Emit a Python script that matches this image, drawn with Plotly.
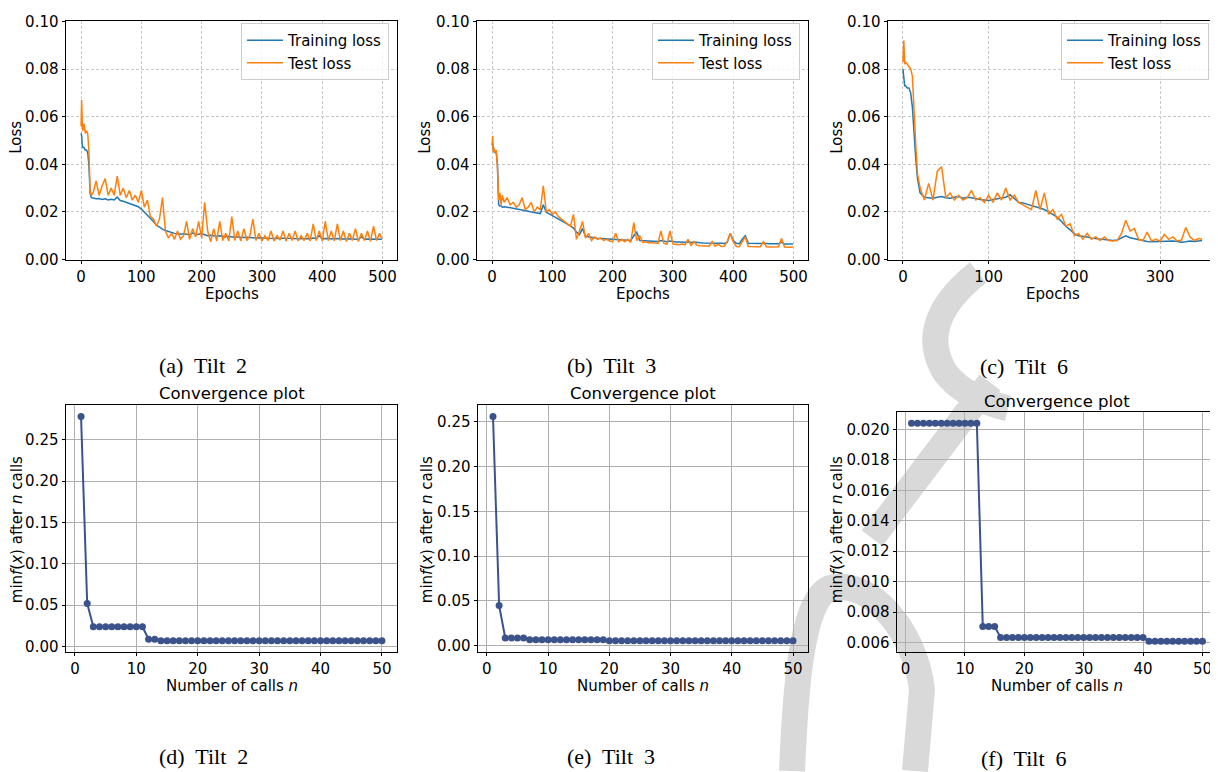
import plotly.graph_objects as go

# ---------------- data: loss curves ----------------
# Tilt 2
epochs_a = [0, 1, 2, 3, 5, 7, 9, 11, 13, 15, 17] + list(range(20, 500, 5)) + [499]
train_a = [0.053, 0.052, 0.048, 0.047, 0.047, 0.046, 0.046, 0.045, 0.040, 0.028, 0.026,
           0.0258, 0.0255, 0.0256, 0.0252, 0.0255, 0.0250, 0.0253, 0.0250, 0.0262, 0.0248,
           0.0245, 0.0240, 0.0236, 0.0232, 0.0226, 0.0222, 0.0212, 0.0200, 0.0188, 0.0172,
           0.0160, 0.0145, 0.0135, 0.0128, 0.0122, 0.0118, 0.0112, 0.0110, 0.0108, 0.0106,
           0.0108, 0.0105, 0.0104, 0.0112, 0.0104, 0.0106, 0.0110, 0.0104, 0.0100, 0.0102,
           0.0099, 0.0098, 0.0100, 0.0097, 0.0096, 0.0098, 0.0095, 0.0096, 0.0094, 0.0095,
           0.0093, 0.0094, 0.0092, 0.0093, 0.0091, 0.0092, 0.0090, 0.0091, 0.0090, 0.0089,
           0.0090, 0.0089, 0.0088, 0.0090, 0.0088, 0.0089, 0.0088, 0.0087, 0.0089, 0.0088,
           0.0087, 0.0088, 0.0087, 0.0090, 0.0088, 0.0100, 0.0087, 0.0088, 0.0086, 0.0087,
           0.0086, 0.0088, 0.0086, 0.0087, 0.0085, 0.0086, 0.0087, 0.0085, 0.0086, 0.0095,
           0.0085, 0.0086, 0.0085, 0.0086, 0.0084, 0.0085,
           0.0085]
test_a = [0.056, 0.067, 0.058, 0.054, 0.057, 0.053, 0.054, 0.053, 0.046, 0.029, 0.027,
          0.028, 0.033, 0.027, 0.031, 0.034, 0.027, 0.030, 0.027, 0.035, 0.027,
          0.030, 0.026, 0.029, 0.025, 0.027, 0.024, 0.029, 0.022, 0.025, 0.018,
          0.017, 0.014, 0.017, 0.026, 0.012, 0.009, 0.011, 0.0085, 0.012, 0.0085,
          0.010, 0.016, 0.0085, 0.013, 0.0095, 0.016, 0.009, 0.024, 0.012, 0.0075,
          0.013, 0.0078, 0.016, 0.008, 0.011, 0.0078, 0.018, 0.008, 0.012, 0.0078,
          0.013, 0.008, 0.010, 0.017, 0.008, 0.011, 0.0078, 0.010, 0.008, 0.012,
          0.0078, 0.010, 0.0082, 0.012, 0.0078, 0.011, 0.008, 0.012, 0.0078, 0.010,
          0.008, 0.011, 0.0078, 0.015, 0.008, 0.012, 0.0078, 0.016, 0.008, 0.012,
          0.0078, 0.015, 0.008, 0.012, 0.0076, 0.011, 0.008, 0.013, 0.0076, 0.011,
          0.008, 0.012, 0.0076, 0.014, 0.008, 0.011,
          0.0085]

# Tilt 3
epochs_b = [0, 1, 2, 3, 5, 7, 9, 11, 13, 15, 17] + list(range(20, 500, 5)) + [499]
train_b = [0.048, 0.049, 0.046, 0.046, 0.045, 0.045, 0.040, 0.023, 0.0225, 0.0225, 0.022,
           0.0222, 0.0220, 0.0218, 0.0215, 0.0213, 0.0210, 0.0208, 0.0205, 0.0203, 0.0200,
           0.0198, 0.0195, 0.0193, 0.0230, 0.0198, 0.0192, 0.0185, 0.0180, 0.0172, 0.0165,
           0.0157, 0.0150, 0.0142, 0.0132, 0.0115, 0.0105, 0.0130, 0.0098, 0.0095, 0.0092,
           0.0090, 0.0089, 0.0088, 0.0087, 0.0086, 0.0085, 0.0085, 0.0084, 0.0083, 0.0083,
           0.0082, 0.0081, 0.0080, 0.0100, 0.0115, 0.0080, 0.0079, 0.0078, 0.0078, 0.0077,
           0.0077, 0.0076, 0.0080, 0.0076, 0.0075, 0.0078, 0.0075, 0.0074, 0.0074, 0.0073,
           0.0073, 0.0075, 0.0072, 0.0074, 0.0071, 0.0071, 0.0070, 0.0070, 0.0070, 0.0072,
           0.0069, 0.0072, 0.0069, 0.0068, 0.0072, 0.0110, 0.0080, 0.0068, 0.0067, 0.0085,
           0.0100, 0.0068, 0.0067, 0.0067, 0.0066, 0.0067, 0.0069, 0.0066, 0.0066, 0.0066,
           0.0065, 0.0066, 0.0072, 0.0065, 0.0065, 0.0065,
           0.0065]
test_b = [0.048, 0.052, 0.045, 0.047, 0.045, 0.046, 0.038, 0.025, 0.028, 0.023, 0.027,
          0.024, 0.026, 0.023, 0.024, 0.022, 0.023, 0.026, 0.021, 0.022, 0.024,
          0.020, 0.022, 0.021, 0.031, 0.020, 0.021, 0.019, 0.020, 0.018, 0.017,
          0.016, 0.015, 0.014, 0.019, 0.0085, 0.012, 0.016, 0.009, 0.011, 0.008,
          0.0095, 0.0085, 0.009, 0.008, 0.0085, 0.0078, 0.0075, 0.011, 0.0075, 0.0085,
          0.0075, 0.0085, 0.0072, 0.0155, 0.008, 0.010, 0.0072, 0.0075, 0.007, 0.0072,
          0.007, 0.0068, 0.012, 0.0068, 0.0065, 0.012, 0.0065, 0.0063, 0.0062, 0.0065,
          0.0062, 0.0085, 0.006, 0.0075, 0.006, 0.0058, 0.0058, 0.0057, 0.0056, 0.0075,
          0.0056, 0.0065, 0.0055, 0.0056, 0.0075, 0.011, 0.0075, 0.0055, 0.0054, 0.0075,
          0.0095, 0.0055, 0.0054, 0.0055, 0.0053, 0.0054, 0.0075, 0.0054, 0.0053, 0.0054,
          0.0053, 0.0054, 0.0088, 0.0053, 0.0052, 0.0053,
          0.0053]

# Tilt 6
epochs_c = [0, 1, 2, 3, 5, 7, 9, 11, 13, 15, 17] + list(range(20, 350, 5)) + [349]
train_c = [0.080, 0.074, 0.073, 0.073, 0.072, 0.072, 0.070, 0.064, 0.052, 0.042, 0.034,
           0.028, 0.0262, 0.0260, 0.0258, 0.0262, 0.0265, 0.0260, 0.0258, 0.0262, 0.0265,
           0.0258, 0.0262, 0.0260, 0.0255, 0.0252, 0.0250, 0.0248, 0.0252, 0.0255, 0.0258,
           0.0262, 0.0272, 0.0255, 0.0240, 0.0238, 0.0232, 0.0228, 0.0220, 0.0215, 0.0210,
           0.0200, 0.0190, 0.0178, 0.0160, 0.0140, 0.0125, 0.0108, 0.0100, 0.0098, 0.0095,
           0.0090, 0.0088, 0.0085, 0.0083, 0.0082, 0.0080, 0.0082, 0.0090, 0.0100, 0.0092,
           0.0088, 0.0082, 0.0078, 0.0076, 0.0075, 0.0076, 0.0075, 0.0078, 0.0080, 0.0078,
           0.0076, 0.0073, 0.0075, 0.0078, 0.0076, 0.0078,
           0.0080]
test_c = [0.083, 0.092, 0.082, 0.083, 0.082, 0.081, 0.080, 0.077, 0.060, 0.048, 0.036,
          0.030, 0.025, 0.032, 0.025, 0.037, 0.039, 0.026, 0.028, 0.025, 0.027,
          0.025, 0.026, 0.029, 0.025, 0.026, 0.024, 0.027, 0.024, 0.028, 0.025,
          0.030, 0.025, 0.027, 0.024, 0.023, 0.022, 0.021, 0.029, 0.021, 0.028,
          0.019, 0.021, 0.017, 0.019, 0.014, 0.015, 0.010, 0.011, 0.0085, 0.011,
          0.0085, 0.0095, 0.008, 0.0095, 0.008, 0.0078, 0.008, 0.011, 0.0165, 0.012,
          0.013, 0.0085, 0.008, 0.0115, 0.0078, 0.0085, 0.0078, 0.0105, 0.0085, 0.0095,
          0.0078, 0.0082, 0.0135, 0.0095, 0.0080, 0.0088,
          0.0085]

# ---------------- data: convergence ----------------
calls = list(range(1, 51))
conv_d = [0.278, 0.052] + [0.0238] * 9 + [0.0088, 0.0088] + [0.0068] * 37
conv_e = [0.256, 0.045] + [0.0088] * 4 + [0.0066] * 13 + [0.0055] * 31
conv_f = [0.02041] * 12 + [0.00705] * 3 + [0.00633] * 25 + [0.00609] * 10

for name, xs, ys in [("a tr", epochs_a, train_a), ("a te", epochs_a, test_a),
                     ("b tr", epochs_b, train_b), ("b te", epochs_b, test_b),
                     ("c tr", epochs_c, train_c), ("c te", epochs_c, test_c),
                     ("d", calls, conv_d), ("e", calls, conv_e), ("f", calls, conv_f)]:
    assert len(xs) == len(ys), f"{name}: {len(xs)} vs {len(ys)}"

BLUE = "#1f77b4"
ORANGE = "#ff7f0e"
CONV = "#3b528b"
WATERMARK = "#d9d9d9"
FS = 15
TICKFONT = dict(family="DejaVu Sans", size=FS, color="black")

# Figure size and the observed placement of the figure in the photographed page
FW, FH = 1218, 772
OX = 8.0             # horizontal page offset
OY, SY = 16.1, 0.978  # vertical page offset and scale


def fx(X):
    return min(max((X - OX) / FW, 0.0), 1.0)


def fy(Y):
    return min(max(1 - (Y - OY) / SY / FH, 0.0), 1.0)


# panel boxes in target pixels: (left, right, top, bottom)
boxes = {
    "a": (66, 397, 20.5, 259),
    "b": (477, 808, 20.5, 259),
    "c": (888, 1217, 20.5, 259),
    "d": (66, 397, 405, 652),
    "e": (478, 808, 405, 652),
    "f": (897, 1217, 412, 652),
}


def dom(box):
    l, r, t, b = box
    return [fx(l), fx(r)], [fy(b), fy(t)]


def margin_range(vals, frac=0.05):
    lo, hi = min(vals), max(vals)
    span = hi - lo
    return [lo - frac * span, hi + frac * span]


fig = go.Figure()

loss_panels = [("a", epochs_a, train_a, test_a, 1, "legend"),
               ("b", epochs_b, train_b, test_b, 2, "legend2"),
               ("c", epochs_c, train_c, test_c, 3, "legend3")]
for key, ep, tr, te, i, leg in loss_panels:
    xa = "x" if i == 1 else f"x{i}"
    ya = "y" if i == 1 else f"y{i}"
    fig.add_trace(go.Scatter(x=ep, y=tr, mode="lines", name="Training loss",
                             line=dict(color=BLUE, width=1.5), xaxis=xa, yaxis=ya,
                             legend=leg, showlegend=True))
    fig.add_trace(go.Scatter(x=ep, y=te, mode="lines", name="Test loss",
                             line=dict(color=ORANGE, width=1.5), xaxis=xa, yaxis=ya,
                             legend=leg, showlegend=True))

conv_panels = [("d", conv_d, 4), ("e", conv_e, 5), ("f", conv_f, 6)]
for key, vals, i in conv_panels:
    fig.add_trace(go.Scatter(x=calls, y=vals, mode="lines+markers",
                             line=dict(color=CONV, width=2),
                             marker=dict(color=CONV, size=7),
                             xaxis=f"x{i}", yaxis=f"y{i}", showlegend=False))

layout = dict(width=FW, height=FH, margin=dict(l=0, r=0, t=0, b=0),
              plot_bgcolor="white", paper_bgcolor="white", showlegend=True)

common = dict(showline=True, linecolor="black", linewidth=1, mirror=True,
              ticks="outside", ticklen=3.5, tickwidth=1, tickcolor="black",
              tickfont=TICKFONT, zeroline=False, showgrid=True,
              ticklabeloverflow="allow")

for key, ep, tr, te, i, leg in loss_panels:
    xd, yd = dom(boxes[key])
    sfx = "" if i == 1 else str(i)
    xmax = ep[-1]
    layout[f"xaxis{sfx}"] = dict(common, domain=xd, anchor=f"y{sfx}",
                                 range=[-0.05 * xmax, 1.05 * xmax], dtick=100, tick0=0,
                                 gridcolor="#c8c8c8", griddash="3px,2px", gridwidth=0.8)
    layout[f"yaxis{sfx}"] = dict(common, domain=yd, anchor=f"x{sfx}",
                                 range=[0, 0.1], dtick=0.02, tick0=0, tickformat=".2f",
                                 gridcolor="#c8c8c8", griddash="3px,2px", gridwidth=0.8)

conv_fmt = {"d": (0.05, ".2f"), "e": (0.05, ".2f"), "f": (0.002, ".3f")}
for key, vals, i in conv_panels:
    xd, yd = dom(boxes[key])
    dt, fmt = conv_fmt[key]
    layout[f"xaxis{i}"] = dict(common, domain=xd, anchor=f"y{i}",
                               range=margin_range(calls), dtick=10, tick0=0, ticklen=3,
                               gridcolor="#b0b0b0", gridwidth=1)
    layout[f"yaxis{i}"] = dict(common, domain=yd, anchor=f"x{i}",
                               range=margin_range(vals), dtick=dt, tick0=0, tickformat=fmt,
                               gridcolor="#b0b0b0", gridwidth=1)

leg_common = dict(bgcolor="rgba(255,255,255,0.8)", bordercolor="#cccccc", borderwidth=1,
                  font=dict(family="DejaVu Sans", size=FS, color="black"),
                  xanchor="right", yanchor="top", itemwidth=36, tracegroupgap=0)
for key, leg in [("a", "legend"), ("b", "legend2"), ("c", "legend3")]:
    l, r, t, b = boxes[key]
    layout[leg] = dict(leg_common, x=fx(r - 8), y=fy(22))

fig.update_layout(**layout)


# light grey "proof" watermark strokes (page decoration), drawn under the data
def wm_path(points_cmds):
    parts = []
    for cmd, pts in points_cmds:
        coords = " ".join(f"{fx(x):.5f},{fy(y):.5f}" for x, y in pts)
        parts.append(f"{cmd} {coords}")
    return " ".join(parts)


wm_strokes = [
    [("M", [(978, 272)]), ("Q", [(915, 322), (945, 372)]), ("Q", [(965, 398), (1008, 408)])],
    [("M", [(990, 382)]), ("L", [(872, 538)])],
    [("M", [(792, 772)]), ("C", [(795, 700), (800, 600), (830, 588)]),
     ("C", [(870, 578), (915, 630), (922, 690)]), ("L", [(915, 772)])],
]
for strokes in wm_strokes:
    fig.add_shape(type="path", path=wm_path(strokes), xref="paper", yref="paper",
                  line=dict(color=WATERMARK, width=26), layer="below")

ann = []


def txt(x, y, s, size=FS, family="DejaVu Sans", angle=0):
    ann.append(dict(x=fx(x), y=fy(y), xref="paper", yref="paper", text=s,
                    showarrow=False, textangle=angle, xanchor="center", yanchor="middle",
                    font=dict(family=family, size=size, color="black")))


for key, lx in [("a", 16), ("b", 425), ("c", 837)]:
    l, r, t, b = boxes[key]
    txt((l + r) / 2, 293, "Epochs")
    txt(lx, 137, "Loss", angle=-90)

for key, lx, ty in [("d", 17, 393), ("e", 427, 393), ("f", 837, 401)]:
    l, r, t, b = boxes[key]
    txt((l + r) / 2, 686, "Number of calls <i>n</i>")
    txt((l + r) / 2, ty, "Convergence plot", size=16.5)
    txt(lx, 530, "min<i>f</i>(<i>x</i>) after <i>n</i> calls", angle=-90)

for x, y, s in [(203, 365, "(a)&nbsp; Tilt&nbsp; 2"), (611, 365, "(b)&nbsp; Tilt&nbsp; 3"),
                (1024, 366, "(c)&nbsp; Tilt&nbsp; 6"), (203, 757, "(d)&nbsp; Tilt&nbsp; 2"),
                (611, 757, "(e)&nbsp; Tilt&nbsp; 3"), (1024, 759, "(f)&nbsp; Tilt&nbsp; 6")]:
    txt(x, y, s, size=22, family="Liberation Serif")

fig.update_layout(annotations=ann)
fig.write_html("out.html")
